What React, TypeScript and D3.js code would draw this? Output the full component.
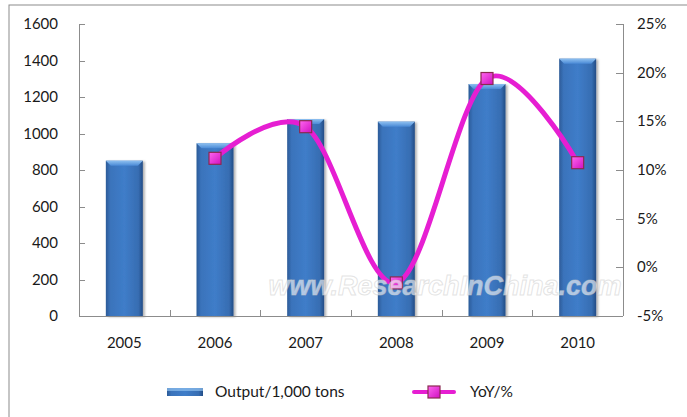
import React from 'react';
import * as d3 from 'd3';

const years = ['2005', '2006', '2007', '2008', '2009', '2010'];
const output = [851, 946, 1079, 1065, 1271, 1410];
const yoyYears = ['2006', '2007', '2008', '2009', '2010'];
const yoy = [11.2, 14.45, -1.6, 19.4, 10.75];
const leftTicks = [0, 200, 400, 600, 800, 1000, 1200, 1400, 1600];
const rightTicks = [-5, 0, 5, 10, 15, 20, 25];

const W = 687;
const H = 417;
const font = 'Lato, "Open Sans", sans-serif';

export default function App() {
  const left = 79, right = 623, top = 24, bottom = 316;

  const x = d3.scaleBand().domain(years).range([left, right]).paddingInner(0).paddingOuter(0);
  const yL = d3.scaleLinear().domain([0, 1600]).range([bottom, top]);
  const yR = d3.scaleLinear().domain([-5, 25]).range([bottom, top]);
  const barW = 37;

  const pts: [number, number][] = yoyYears.map((yr, i) => [x(yr)! + x.bandwidth() / 2, yR(yoy[i])]);
  const line = d3.line().curve(d3.curveCardinal.tension(0))(pts) || '';

  return (
    <svg width={W} height={H} style={{ position: 'absolute', left: 0, top: 0, background: '#fff' }}>
      <defs>
        <linearGradient id="barG" x1="0" x2="1" y1="0" y2="0">
          <stop offset="0" stopColor="#2c5b98" />
          <stop offset="0.12" stopColor="#3a73bb" />
          <stop offset="0.5" stopColor="#3f7dc9" />
          <stop offset="0.88" stopColor="#376db2" />
          <stop offset="1" stopColor="#224c85" />
        </linearGradient>
        <linearGradient id="barTop" x1="0" x2="0" y1="0" y2="1">
          <stop offset="0" stopColor="#8ec0f0" />
          <stop offset="1" stopColor="#4a8ad6" />
        </linearGradient>
        <linearGradient id="mk" x1="0" x2="1" y1="0" y2="1">
          <stop offset="0" stopColor="#ff66f0" />
          <stop offset="1" stopColor="#d010c0" />
        </linearGradient>
        <filter id="shadow" x="-20%" y="-5%" width="150%" height="110%">
          <feDropShadow dx="2" dy="1" stdDeviation="1.2" floodColor="#000" floodOpacity="0.3" />
        </filter>
      </defs>

      {/* outer frame */}
      <rect x={9} y={5} width={W} height={H} fill="none" stroke="#8c8c8c" strokeWidth={1} />

      {/* bars */}
      {years.map((yr, i) => {
        const cx = x(yr)! + x.bandwidth() / 2;
        const bx = cx - barW / 2;
        const by = yL(output[i]);
        return (
          <g key={yr} filter="url(#shadow)">
            <rect x={bx} y={by} width={barW} height={bottom - by} fill="url(#barG)" />
            <polygon points={`${bx},${by} ${bx + barW},${by} ${bx + barW - 5},${by + 5} ${bx + 5},${by + 5}`}
              fill="url(#barTop)" />
          </g>
        );
      })}

      {/* axes */}
      <g stroke="#8c8c8c" strokeWidth={1} fill="none">
        <line x1={left + 0.5} x2={left + 0.5} y1={top} y2={bottom} />
        <line x1={right + 0.5} x2={right + 0.5} y1={top} y2={bottom} />
        <line x1={left} x2={right} y1={bottom + 0.5} y2={bottom + 0.5} />
        {leftTicks.map(t => (
          <line key={'l' + t} x1={left} x2={left + 6} y1={Math.round(yL(t)) + 0.5} y2={Math.round(yL(t)) + 0.5} />
        ))}
        {rightTicks.map(t => (
          <line key={'r' + t} x1={right - 7} x2={right} y1={Math.round(yR(t)) + 0.5} y2={Math.round(yR(t)) + 0.5} />
        ))}
        {years.slice(1).map(yr => (
          <line key={'x' + yr} x1={Math.round(x(yr)!) + 0.5} x2={Math.round(x(yr)!) + 0.5} y1={bottom - 6} y2={bottom} />
        ))}
      </g>

      {/* tick labels */}
      <g fontFamily={font} fontSize={15} fill="#1a1a1a">
        {leftTicks.map(t => (
          <text key={'lt' + t} x={58} y={yL(t) + 5} textAnchor="end">{t}</text>
        ))}
        {rightTicks.map(t => (
          <text key={'rt' + t} x={637} y={yR(t) + 5}>{t}%</text>
        ))}
        {years.map(yr => (
          <text key={'xt' + yr} x={x(yr)! + x.bandwidth() / 2} y={348} textAnchor="middle">{yr}</text>
        ))}
      </g>

      {/* yoy line */}
      <path d={line} fill="none" stroke="#e61ed2" strokeWidth={5} strokeLinecap="round" />
      {pts.map(([px, py], i) => (
        <rect key={'m' + i} x={px - 6} y={py - 6} width={12} height={12} fill="url(#mk)" stroke="#8a2a50" strokeWidth={1.2} />
      ))}

      {/* watermark, drawn over the plot */}
      <text x={445} y={295} textAnchor="middle" fontFamily='"Liberation Sans", Arial, sans-serif'
        fontStyle="italic" fontWeight="bold" fontSize={27} fill="#ffffff" fillOpacity={0.6}
        stroke="#c8c8c8" strokeOpacity={0.5} strokeWidth={1}>
        www.ResearchInChina.com
      </text>

      {/* legend */}
      <g fontFamily={font} fontSize={15.5} fill="#1a1a1a">
        <rect x={167} y={388} width={36} height={8} fill="url(#barG)" />
        <rect x={167} y={388} width={36} height={3} fill="#8ec0f0" opacity={0.7} />
        <text x={215} y={397}>Output/1,000 tons</text>
        <line x1={414} x2={454} y1={392} y2={392} stroke="#e61ed2" strokeWidth={4} strokeLinecap="round" />
        <rect x={428} y={386} width={12} height={12} fill="url(#mk)" stroke="#8a2a50" strokeWidth={1.2} />
        <text x={470} y={397}>YoY/%</text>
      </g>
    </svg>
  );
}
